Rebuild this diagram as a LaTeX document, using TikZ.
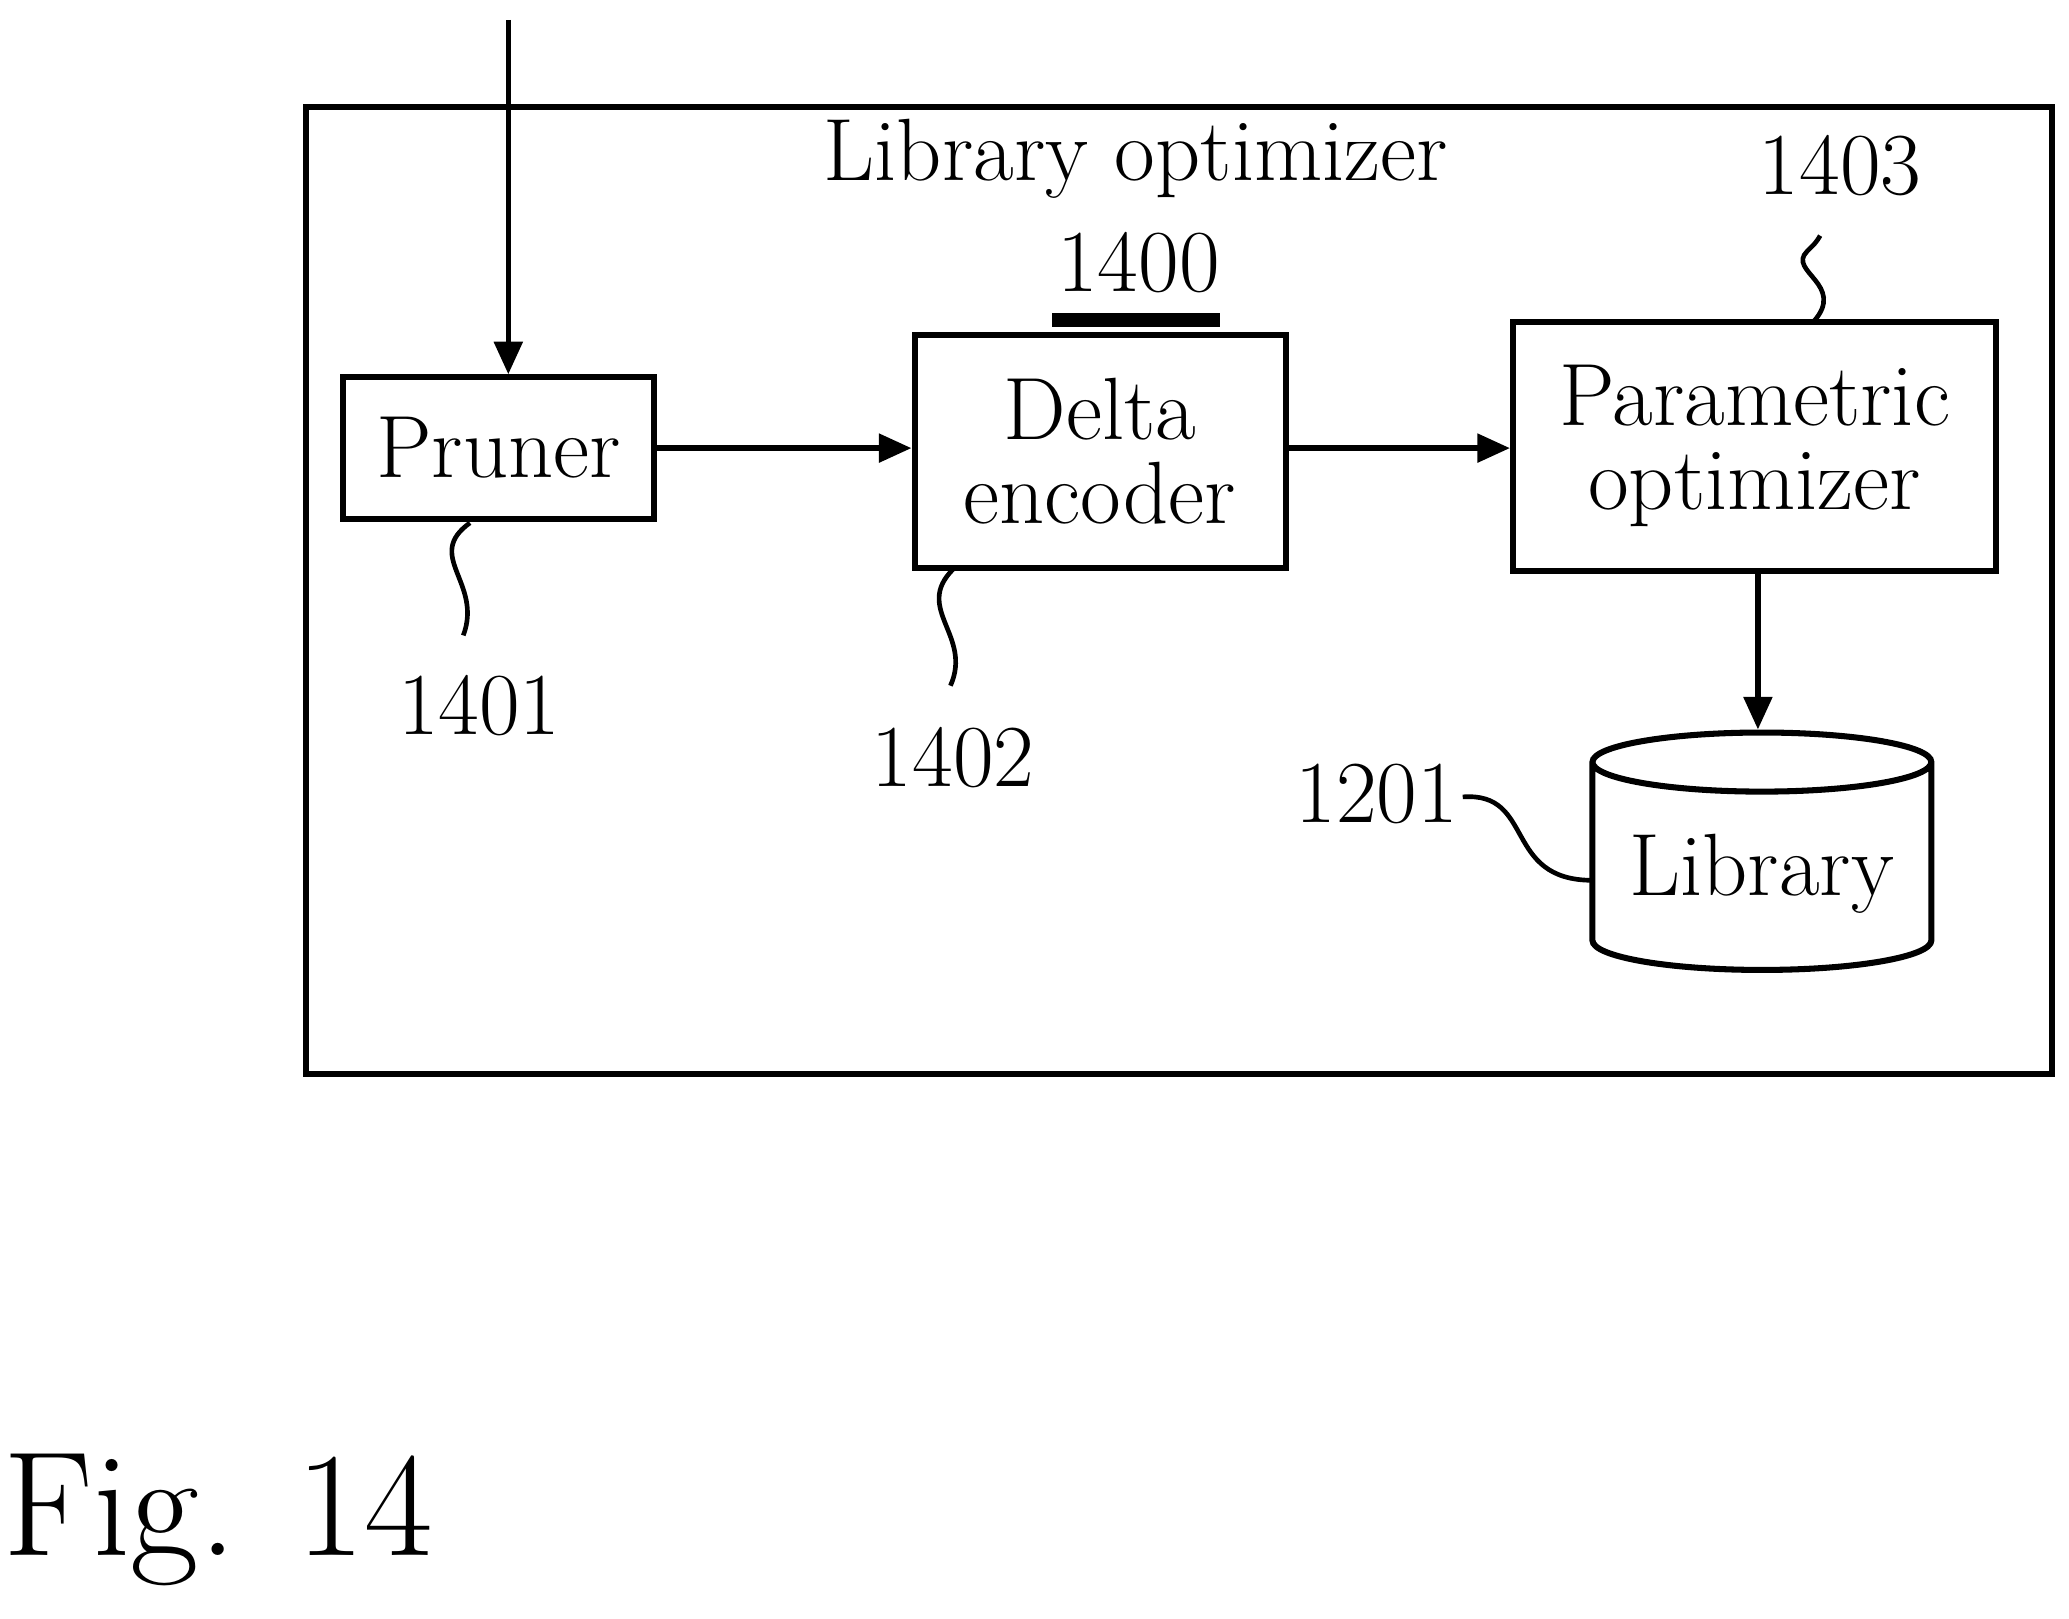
\documentclass[tikz,border=0pt]{standalone}
\usetikzlibrary{shapes.geometric,arrows.meta}
\begin{document}
\begin{tikzpicture}[x=0.01cm,y=-0.01cm,
  box/.style={draw,line width=1.3pt,inner sep=0pt},
  lbl/.style={font=\fontsize{19}{22}\selectfont},
  arr/.style={line width=1.2pt,-{Triangle[length=7pt,width=6pt]}},
  sq/.style={line width=1pt}]
\useasboundingbox (0,0) rectangle (1563,1223);
\draw[line width=1.3pt] (231,81) rectangle (1550,811);
\node[lbl] (title) at (858,120) {Library optimizer};
\node[box,minimum width=66.9pt,minimum height=30.4pt,lbl] (pr) at (376.5,338.5) {Pruner};
\node[box,minimum width=79.7pt,minimum height=50pt,lbl,align=center] (de) at (831,341) {Delta\\[-4pt]encoder};
\node[box,minimum width=103.8pt,minimum height=53.5pt,lbl,align=center] (po) at (1325.5,337) {Parametric\\[-4pt]optimizer};
\node[cylinder,draw,line width=1.3pt,shape border rotate=90,aspect=0.2,minimum width=72.8pt,minimum height=51pt,lbl] (lib) at (1331,660) {Library};
\coordinate (in) at (384,15);
\draw[arr] (in) -- (pr.north -| in);
\draw[arr] (pr.east) -- (de.west |- pr.east);
\draw[arr] (de.east |- pr.east) -- (po.west |- pr.east);
\draw[arr] (1328,431) -- (lib.north -| 1328,0);
\node[lbl] (n1400) at (860,198) {1400};
\draw[line width=3pt] (795,242) -- (922,242);
\node[lbl] (n1403) at (1390,125) {1403};
\node[lbl] (n1401) at (362,533) {1401};
\node[lbl] (n1402) at (720,572) {1402};
\node[lbl] (n1201) at (1040,600) {1201};
\draw[sq] (1370,243) .. controls (1395,215) and (1350,205) .. (1365,190) .. controls (1372,183) .. (1375,178);
\draw[sq] (355,395) .. controls (320,420) and (365,440) .. (350,480);
\draw[sq] (720,430) .. controls (690,460) and (735,480) .. (718,518);
\draw[sq] (1105,602) .. controls (1160,598) and (1135,665) .. (1203,665);
\node[font=\fontsize{32}{36}\selectfont] (fig) at (165,1148) {Fig. 14};
\end{tikzpicture}
\end{document}
